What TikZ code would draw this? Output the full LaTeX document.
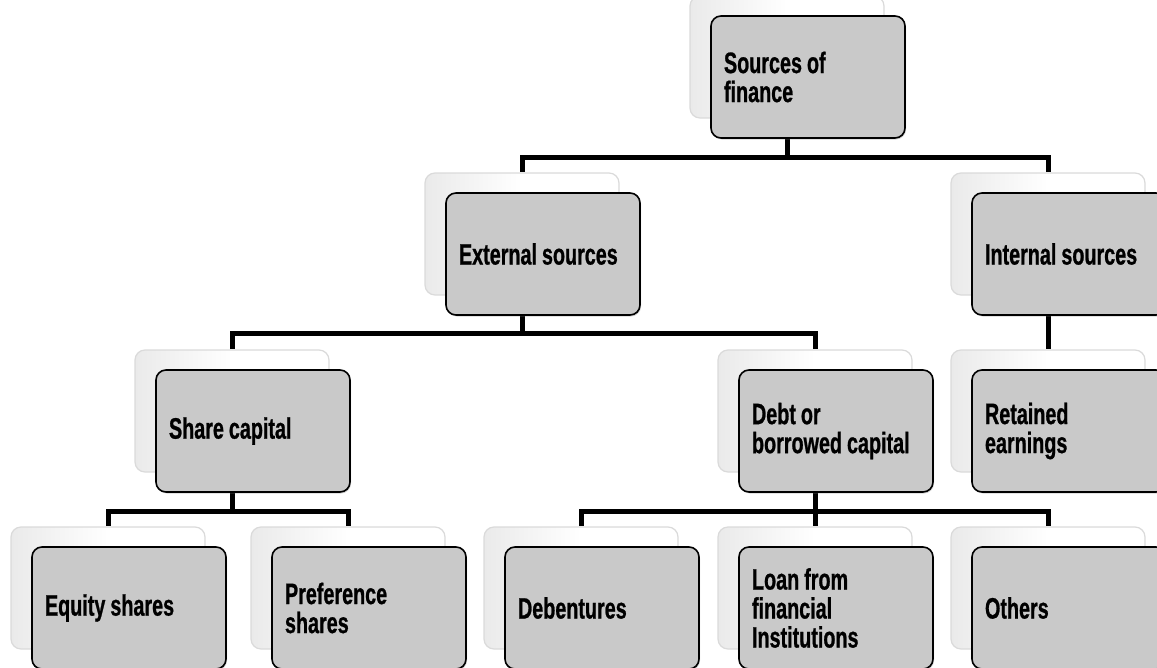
\documentclass[tikz,border=0pt]{standalone}
\usepackage{fontspec}
\setmainfont{Liberation Sans}[FakeStretch=0.67, BoldFeatures={FakeBold=0.8}]
\usetikzlibrary{shadows}
\definecolor{cardgray}{RGB}{201,201,201}
\definecolor{ghostline}{RGB}{218,218,218}
\definecolor{ghostedge}{RGB}{234,234,234}
% bold condensed label face
\newcommand{\cardfont}{\bfseries\fontsize{29.5}{29}\selectfont\hyphenpenalty=10000\relax}
% tight word spacing, set inside each label
\newcommand{\tightspace}{\spaceskip=5pt plus 2pt minus 1pt\relax\xspaceskip=5pt\relax}

\begin{document}
\begin{tikzpicture}[x=1pt,y=-1pt,
  card/.style={rectangle, rounded corners=10pt, fill=cardgray, draw=black,
    line width=1.6pt, minimum width=194pt, minimum height=122pt,
    text width=168pt, inner xsep=13pt, align=left, font=\cardfont,
    execute at begin node=\tightspace,
    drop shadow={opacity=0.35, shadow xshift=1pt, shadow yshift=-1.5pt}},
  ghost/.style={rectangle, rounded corners=10pt, left color=ghostedge, right color=white,
    middle color=white, draw=ghostline, line width=1.2pt,
    minimum width=194pt, minimum height=122pt},
  bus/.style={draw=black, line width=5pt}
]
\useasboundingbox (0,0) rectangle (1157,667);

% back plates of every box
\node[ghost] (srcb) at (787,57)  {};
\node[ghost] (extb) at (522,234) {};
\node[ghost] (intb) at (1048,234) {};
\node[ghost] (shrb) at (232,411) {};
\node[ghost] (debb) at (815,411) {};
\node[ghost] (retb) at (1048,411) {};
\node[ghost] (eqb)  at (108,588) {};
\node[ghost] (prfb) at (348,588) {};
\node[ghost] (dbnb) at (581,588) {};
\node[ghost] (lnb)  at (815,588) {};
\node[ghost] (othb) at (1048,588) {};

% tree connectors, drawn beneath the front boxes
\draw[bus] (srcb.south) -- ++(0,39) -| (extb.north);
\draw[bus] (srcb.south) -- ++(0,39) -| (intb.north);
\draw[bus] (extb.south) -- ++(0,38) -| (shrb.north);
\draw[bus] (extb.south) -- ++(0,38) -| (debb.north);
\draw[bus] (intb.south) -- (retb.north);
\draw[bus] (shrb.south) -- ++(0,39) -| (eqb.north);
\draw[bus] (shrb.south) -- ++(0,39) -| (prfb.north);
\draw[bus] (debb.south) -- ++(0,39) -| (dbnb.north);
\draw[bus] (debb.south) -- ++(0,39) -| (lnb.north);
\draw[bus] (debb.south) -- ++(0,39) -| (othb.north);

% front boxes
\node[card] (src) at (808,77)   {Sources of\\finance};
\node[card] (ext) at (543,254)  {External sources};
\node[card] (int) at (1069,254) {Internal sources};
\node[card] (shr) at (253,431)  {Share capital};
\node[card] (deb) at (836,431)  {Debt or\\borrowed capital};
\node[card] (ret) at (1069,431) {Retained\\earnings};
\node[card] (eq)  at (129,608)  {Equity shares};
\node[card] (prf) at (369,608)  {Preference\\shares};
\node[card] (dbn) at (602,608)  {Debentures};
\node[card] (ln)  at (836,608)  {Loan from\\financial\\Institutions};
\node[card] (oth) at (1069,608) {Others};
\end{tikzpicture}
\end{document}
